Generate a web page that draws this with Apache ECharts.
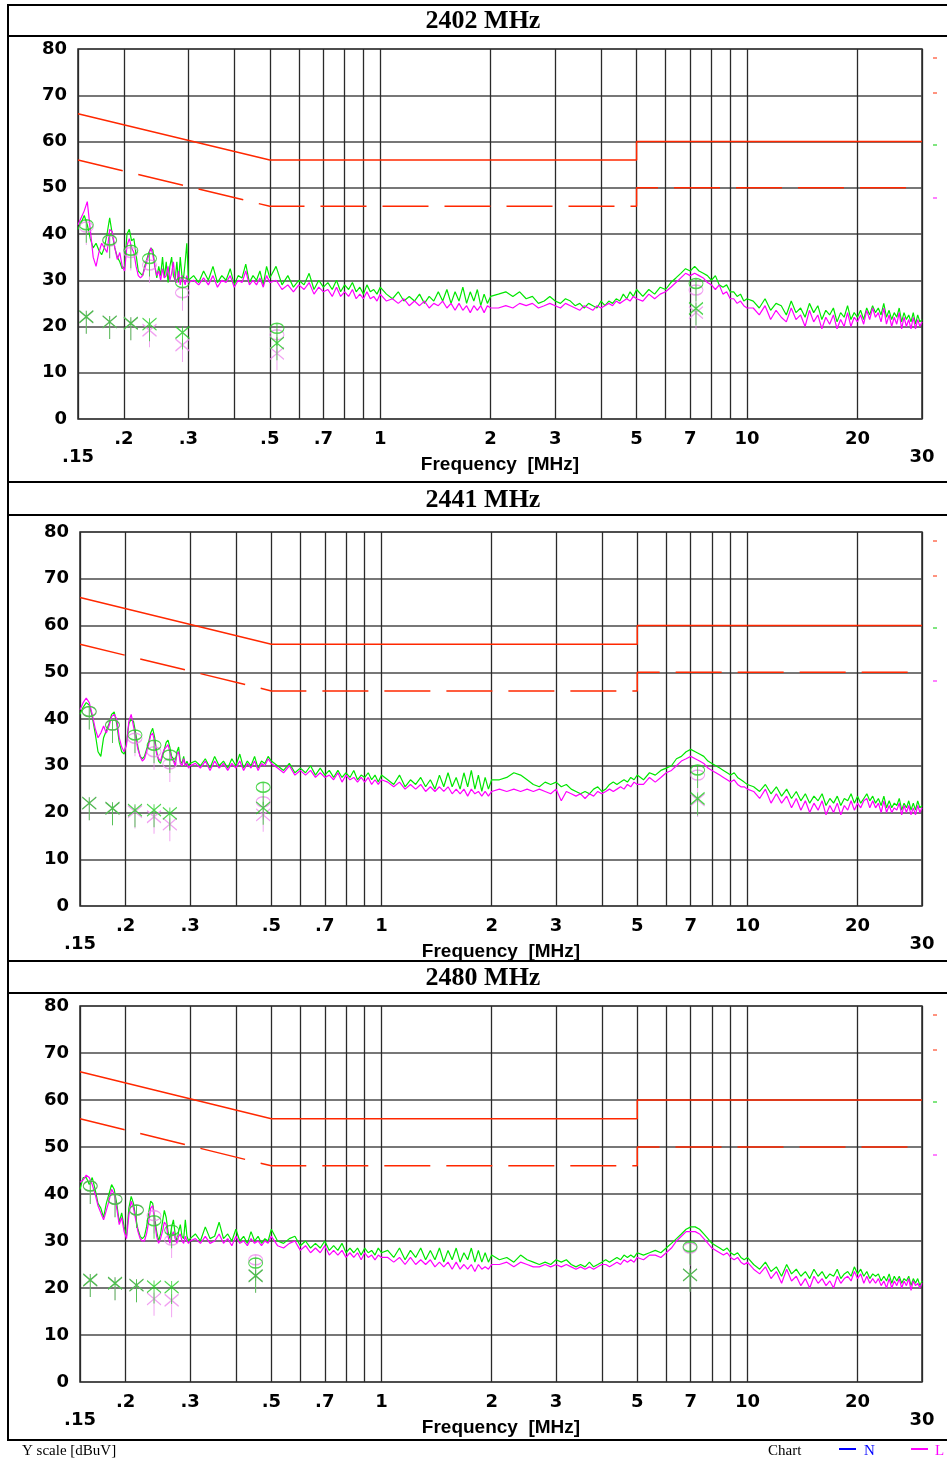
<!DOCTYPE html>
<html>
<head>
<meta charset="utf-8">
<title>Conducted emission 2402 / 2441 / 2480 MHz</title>
<script src="https://cdn.jsdelivr.net/npm/echarts@6/dist/echarts.min.js"></script>
<style>
html, body { margin: 0; padding: 0; background: #fff; }
#chart { width: 947px; height: 1459px; }
</style>
</head>
<body>
<div id="chart"></div>
<script>
// frequency grid of the scans, MHz
var freq = [
  0.150,0.153,0.156,0.159,0.162,0.165,0.168,0.171,0.174,0.177,0.180,0.183,0.186,0.189,0.192,0.195,0.198,0.201,0.204,0.207,
  0.210,0.213,0.216,0.219,0.222,0.225,0.228,0.231,0.234,0.237,0.240,0.243,0.246,0.249,0.252,0.255,0.258,0.261,0.264,0.267,
  0.270,0.273,0.276,0.279,0.282,0.285,0.288,0.291,0.294,0.297,0.300,
  0.31,0.32,0.33,0.34,0.35,0.36,0.37,0.38,0.39,0.40,0.41,0.42,0.43,0.44,0.45,0.46,0.47,0.48,0.49,0.50,
  0.52,0.54,0.56,0.58,0.60,0.62,0.64,0.66,0.68,0.70,0.72,0.74,0.76,0.78,0.80,0.82,0.84,0.86,0.88,0.90,0.92,0.94,0.96,0.98,1.00,
  1.04,1.08,1.12,1.16,1.20,1.24,1.28,1.32,1.36,1.40,1.44,1.48,1.52,1.56,1.60,1.64,1.68,1.72,1.76,1.80,1.84,1.88,1.92,1.96,2.00,
  2.1,2.2,2.3,2.4,2.5,2.6,2.7,2.8,2.9,3.0,3.1,3.2,3.3,3.4,3.5,3.6,3.7,3.8,3.9,4.0,4.1,4.2,4.3,4.4,4.5,4.6,4.7,4.8,4.9,5.0,
  5.2,5.4,5.6,5.8,6.0,6.2,6.4,6.6,6.8,7.0,7.2,7.4,7.6,7.8,8.0,8.2,8.4,8.6,8.8,9.0,9.2,9.4,9.6,9.8,10.0,
  10.4,10.8,11.2,11.6,12.0,12.4,12.8,13.2,13.6,14.0,14.4,14.8,15.2,15.6,16.0,16.4,16.8,17.2,17.6,18.0,
  18.4,18.8,19.2,19.6,20.0,20.4,20.8,21.2,21.6,22.0,22.4,22.8,23.2,23.6,24.0,24.4,24.8,25.2,25.6,26.0,
  26.4,26.8,27.2,27.6,28.0,28.4,28.8,29.2,29.6,30.0
];

// 2402 MHz, N (green) and L (magenta), dBuV
var n2402 = [
  41,42.5,44,42,39,37,38,36.5,35.5,37, 40,43.5,40,37,35,34,32.5,33,40,41,
  38.5,39,35.5,32,31.5,31,33,34.5,36,37, 36.5,33,30.5,33,31,35,30.5,34,29.5,33,
  35,31,30,34,29.5,35,31,30.5,34,38, 30,
  31,29.5,32,30,33,29.5,31,30,32.5,29, 31,30.5,33.5,29.5,31,30,32,29,33,30.5,
  33,29,31,28.5,30,29,31.5,28,30,28.5, 29.5,28,30,27.5,29,28,29.5,27.5,28.5,27, 29,27.5,28,27,28.5,
  27,26,27.5,25.5,26.5,25.5,27,25,26.5,25.5, 27.5,25.5,28,25,27.5,25.5,28.5,25,27.5,25.5, 28,24.5,27,25,26.5,
  27,27.5,26.5,27.5,26,26.5,25,25.5,26.5,25.5, 25,26,25.5,24.5,25,24,25,24.5,24,25.5, 24.5,25.5,25,26,25.5,27,26,27.5,26.5,28,
  26.5,28,27,28.5,28,29.5,30.5,31.5,32.5,32, 33,32,31.5,31,30,31,29,28.5,29,27.5, 27.5,26.5,27,25.5,26,
  25.5,24,26,23.5,25,24.5,22.5,25.5,23,24, 22,25,23,24.5,21.5,23.5,22.5,24,21,23,
  22,24.5,21.5,23,22,23.5,21.5,24,22.5,24.5, 23,24,22.5,25,22,23.5,21.5,23,22,24,
  21,23,21.5,22.5,21,23,20.5,22.5,21,21.5
];
var l2402 = [
  42,43.5,45,47,41,35,33,36,38,37, 36,41,40.5,37,34.5,36,33,32,37.5,39,
  37,36,33,31,30.5,31,32.5,34,35.5,37, 35.5,33,31,32,30,32.5,30.5,31,33,30,
  31.5,34,30,29.5,32,29,31,30,29,31, 29.5,
  30,29,30.5,29,31,28.5,30,29.5,31,28.5, 30,29.5,32,29,30,29,30.5,28.5,31,29.5,
  30,28,29,27.5,29,28,29.5,27,28.5,27.5, 28,26.5,28.5,26.5,27.5,26.5,28,26,27,26, 27.5,26,26.5,25.5,27,
  25.5,26,25,26,24.5,25.5,24.5,25.5,24,25, 24.5,25.5,24,25,23.5,25,23.5,24.5,23,24.5, 23.5,24.5,23,24.5,24,
  24,24.5,24,25,24.5,25,24,24.5,25,24.5, 24,25,24.5,24,23.5,24.5,24,23.5,24.5,24, 24.5,25,24.5,25.5,25,25.5,26,25.5,26.5,26,
  25.5,27,26,27,27.5,28.5,29.5,30.5,31.5,31, 31.5,31,30.5,29.5,29,28,29,27,27.5,26, 26,25,25.5,24.5,24,
  24,22.5,24.5,21.5,23.5,22,21,24,21.5,22.5, 20,23.5,21,22.5,19.5,22,20.5,22.5,19.5,21.5,
  20,23,20,22,21,22.5,20.5,23.5,21.5,24, 22,23,21,24,20.5,22.5,20,22,20.5,23,
  19.5,22,20,21.5,19.5,22,19.5,21.5,20,21
];

// 2441 MHz
var n2441 = [
  41,42.5,43.5,43,40.5,37,33,32,36,37.5, 39,41,41.5,39,35,33,32.5,35,39,40,
  39.5,37,34,32,31.5,32,33.5,35,37,38, 36,33,31,30.5,32,33.5,35,35.5,34,32,
  31.5,30.5,33,34,31,30.5,32,30,31,30, 30.5,
  31,30,31.5,29.5,32,30,31,29.5,31.5,30, 32.5,29.5,31,30,32,29.5,31,30.5,32,31,
  30,29,30.5,28.5,29.5,28.5,30,28,29.5,28, 29,27.5,29,27.5,28.5,27.5,29,27,28,27.5, 28.5,27,28,26.5,28,
  27,26,28,25.5,27,26,27.5,25.5,27,25, 28,25.5,28.5,25.5,27.5,25,28.5,25.5,29,25, 28,24.5,27.5,25,27,
  27,27.5,28.5,28,27,26,25.5,26.5,26,26.5, 25.5,26,25,24.5,24,24.5,24,25,25.5,24.5, 25,26,26.5,26,26.5,27,26.5,27.5,27,28,
  27,28.5,28,29,29.5,30,31.5,32,33,33.5, 33,32.5,32,31,30.5,30,29.5,29,28.5,28, 28.5,27.5,27,26.5,26,
  25.5,24.5,26,24,25.5,23.5,25,23,24.5,22.5, 24,22,23.5,22.5,24,21.5,23,22,23.5,21.5,
  23,22.5,24,22,23.5,22,23,24,22.5,23.5, 22,23,21.5,23.5,21,22.5,21,22,21.5,23,
  20.5,22,21,22.5,20.5,22,20.5,22.5,21,21.5
];
var l2441 = [
  42,43.5,44.5,43.5,41,38,36,37,38.5,37, 38.5,40.5,41,40,36,34,33,34.5,39.5,41,
  38.5,36,33.5,32,31,31.5,33,34.5,36.5,37, 35,32.5,31.5,31,32.5,33.5,34,34.5,33,31.5,
  31,30,32.5,33,30.5,30,31.5,30,30.5,29.5, 30,
  30.5,29.5,31,29,31,29.5,30.5,29,30.5,29.5, 31,29,30.5,29.5,31,29,30.5,30,31.5,30.5,
  29.5,28.5,30,28,29,28,29,27.5,28.5,27.5, 28,27,28.5,26.5,28,27,27.5,26.5,27.5,26.5, 27.5,26,27,26,27,
  26.5,25.5,26.5,25,26,25,26,24.5,25.5,24.5, 25.5,24.5,25.5,24,25,24,25,23.5,25,24, 24.5,23.5,24.5,23.5,24.5,
  25,24.5,25,24.5,25,24.5,25,24.5,24,25, 22.5,24.5,24,23.5,24,23,24,23.5,24.5,24, 24.5,25,24.5,25,25.5,25,26,25.5,26.5,26,
  26,27.5,26.5,27.5,28.5,29,30,31,31.5,32, 31.5,31,30.5,29.5,29,28.5,28,27.5,27,26.5, 27,26,25.5,25.5,25,
  24.5,23,25,22,24,22,23.5,21,23,20.5, 22.5,20,22,20.5,22.5,19.5,21.5,20,22,19.5,
  21.5,20.5,22.5,20.5,22,21,22.5,23,21,22.5, 21,22,20,22.5,20,21.5,20,21,20.5,22,
  19.5,21.5,20,21.5,19.5,21,19.5,21.5,20,21
];

// 2480 MHz
var n2480 = [
  41,43.5,43.5,42,43.5,41,38,37,35,38, 40,42,41,38,34,36,33,31,37,39.5,
  38,35,32.5,31,30.5,31,33,36,38.5,38, 35,32,30,31.5,34,36.5,35,32,30.5,33,
  34.5,31.5,30,32,33.5,31,30.5,34.5,31,30, 30.5,
  31.5,30,33,30.5,31,34,30.5,31.5,30,32.5, 30,31,29.5,32,30,31,29.5,30.5,30,32.5,
  30,29.5,30.5,31,29,30,28.5,29.5,28.5,30, 28,29,28,29.5,27.5,28.5,27.5,28.5,27,28.5, 27.5,28,27,28.5,27.5,
  28,26.5,28.5,26,28,26.5,28.5,26,28,26, 28.5,25.5,28,26,28.5,25.5,27.5,26,28.5,25.5, 28,25.5,27.5,25.5,27,
  26,26.5,25.5,27,26,25.5,25,25.5,25,26, 25.5,26,25,24.5,25,24.5,25.5,24.5,25,25.5, 26,25.5,26,26.5,26,27,26.5,27,26.5,27.5,
  27,27.5,28,27.5,28.5,29.5,30.5,31.5,32.5,33, 33,32.5,31.5,30.5,29.5,29,28.5,28,28.5,27.5, 27,27.5,26.5,26,26.5,
  25,24,25.5,23.5,24.5,22.5,25,23,24,22.5, 23.5,22,24,22.5,23.5,22,23,22.5,24,22,
  23,23.5,22.5,24.5,23,24,22.5,23.5,22,23, 22.5,23,21.5,22.5,21.5,23,21,22.5,21.5,22.5,
  21,22,21.5,22.5,20.5,22,21,22,20.5,21.5
];
var l2480 = [
  42.5,43,44,43.5,42,40,37.5,36,34.5,36.5, 38.5,41,40,37,33.5,35,32,30.5,35.5,38.5,
  37,34.5,32,30.5,30,30,31.5,34,37,37.5, 34,31,29.5,30.5,32,34,33.5,31,29.5,31,
  32,30.5,29.5,31,31.5,30,29.5,31,30,29.5, 30,
  30.5,29.5,31,29.5,30,31.5,29.5,30.5,29,31, 29.5,30,29,30.5,29.5,30,29,30,29.5,31,
  29,28.5,29.5,30,28,29,27.5,28.5,27.5,29, 27,28,27,28,26.5,27.5,26.5,27.5,26,27.5, 26.5,27,26,27,26.5,
  26.5,25.5,26.5,25,26.5,25,26,25,26,24.5, 25.5,24.5,25.5,24,25.5,24,25,24,25,23.5, 25,24,24.5,24,25,
  25,25.5,24.5,25.5,25,24.5,24.5,25,24.5,25, 24.5,25,24.5,24,24.5,24,24.5,24,24.5,25, 25,24.5,25,25.5,25,26,25.5,26,25.5,26.5,
  26,27,27,26.5,27.5,28.5,30,31,32,32, 32,31.5,30.5,29.5,28.5,28,27.5,27,27.5,26.5, 26,26.5,25.5,25,25.5,
  24,23,24.5,22,23.5,21,24,21.5,22.5,20.5, 22,20,22.5,21,22,20.5,21.5,20,22.5,21,
  22,22.5,21.5,23.5,22,23,21,22.5,21,22, 21,22,20.5,21.5,20,22,20,21.5,20.5,22,
  20,21.5,20.5,22,19.5,21.5,20.5,21,20,21
];

// final measurements: quasi-peak (circle) and average (cross)
var mF2402 = [0.158, 0.183, 0.209, 0.235, 0.289, 0.523, 7.26];
var qpN2402 = [42, 38.7, 36.5, 34.7, 29.5, 19.6, 29.3];
var qpL2402 = [41.5, 38.5, 36, 33.3, 27.3, 18.2, 27.9];
var avN2402 = [22.1, 21, 20.7, 20.5, 18.7, 16.4, 23.9];
var avL2402 = [22.1, 21, 20.7, 19.2, 16, 14.2, 23];

var mF2441 = [0.159, 0.184, 0.212, 0.239, 0.264, 0.475, 7.31];
var qpN2441 = [41.6, 38.7, 36.6, 34.4, 32.3, 25.4, 29.1];
var qpL2441 = [41.6, 38.7, 35.9, 33, 30.4, 22.3, 28];
var avN2441 = [22, 20.9, 20.5, 20.5, 19.8, 21, 23];
var avL2441 = [22, 20.9, 20.2, 19.1, 17.5, 19.5, 22.7];

var mF2480 = [0.16, 0.187, 0.214, 0.239, 0.267, 0.453, 6.97];
var qpN2480 = [41.7, 38.9, 36.6, 34.3, 32.3, 25.3, 28.8];
var qpL2480 = [41.7, 38.9, 36.6, 35.4, 30.2, 26, 28.5];
var avN2480 = [21.7, 21, 20.6, 20.3, 20.2, 22.6, 22.8];
var avL2480 = [21.7, 21, 20.6, 17.7, 17.4, 22.6, 22.8];

// limit lines (QP solid, AV dashed)
var limF = [0.15, 0.5, 5, 5, 10, 20, 30];
var qpLim = [66, 56, 56, 60, 60, 60, 60];
var avLim = [56, 46, 46, 50, 50, 50, 50];

// vertical grid lines and their tick labels
var gridFreq = [0.15, 0.2, 0.3, 0.4, 0.5, 0.6, 0.7, 0.8, 0.9, 1, 2, 3, 4, 5, 6, 7, 8, 9, 10, 20, 30];
var gridLabel = ['.15', '.2', '.3', '', '.5', '', '.7', '', '', '1', '2', '3', '', '5', '', '7', '', '', '10', '20', '30'];

var green = '#00e600', pink = '#ff00ff', red = '#ff2800';
var mkGreen = '#22cc22', mkPink = '#ee88ee';

var qpSymbol = 'path://M0,5 A7,5 0 1,1 14,5 A7,5 0 1,1 0,5 M7,0 L7,23';
var avSymbol = 'path://M0,0 L14,12 M14,0 L0,12 M7,0 L7,23';

var panels = [
  { title: '2402 MHz', ty: 21, grid: { left: 78, top: 49, width: 844, height: 370 },
    n: n2402, l: l2402, mf: mF2402, qpN: qpN2402, qpL: qpL2402, avN: avN2402, avL: avL2402 },
  { title: '2441 MHz', ty: 500, grid: { left: 80, top: 532, width: 842, height: 374 },
    n: n2441, l: l2441, mf: mF2441, qpN: qpN2441, qpL: qpL2441, avN: avN2441, avL: avL2441 },
  { title: '2480 MHz', ty: 978, grid: { left: 80, top: 1006, width: 842, height: 376 },
    n: n2480, l: l2480, mf: mF2480, qpN: qpN2480, qpL: qpL2480, avN: avN2480, avL: avL2480 }
];

function pairs(xs, ys) {
  return xs.map(function(x, k) { return [x, ys[k]]; });
}

var tickFont = { color: '#000', fontFamily: 'DejaVu Sans', fontWeight: 'bold', fontSize: 18 };

function gridMarks() {
  return {
    silent: true, symbol: 'none', animation: false,
    lineStyle: { color: '#2a2a2a', width: 1.3, type: 'solid' },
    data: gridFreq.map(function(f, k) {
      var edge = (k === 0 || k === gridFreq.length - 1);
      return {
        xAxis: f,
        label: Object.assign({
          show: gridLabel[k] !== '', formatter: gridLabel[k],
          position: 'start', distance: edge ? 29 : 11
        }, tickFont)
      };
    })
  };
}

// data layers sit on their own canvas layer above the grid
function limit(i, ys, dashed) {
  return {
    type: 'line', xAxisIndex: i, yAxisIndex: i, zlevel: 1, z: 3, silent: true, symbol: 'none',
    clip: false, data: pairs(limF, ys),
    lineStyle: { color: red, width: 1.5, type: dashed ? [46, 16] : 'solid' }
  };
}

function marker(i, xs, ys, symbol, offset, color) {
  return {
    type: 'scatter', xAxisIndex: i, yAxisIndex: i, zlevel: 1, z: 6, silent: true,
    data: pairs(xs, ys), symbol: symbol, symbolSize: [14, 23], symbolOffset: [0, offset],
    itemStyle: { color: 'rgba(0,0,0,0)', borderColor: color, borderWidth: 1.2 }
  };
}

var series = [];
var graphics = [];
panels.forEach(function(p, i) {
  // holder for the vertical grid lines
  series.push({
    type: 'line', xAxisIndex: i, yAxisIndex: i, z: 1, silent: true, symbol: 'none',
    data: [], markLine: gridMarks()
  });
  series.push(limit(i, qpLim, false));
  series.push(limit(i, avLim, true));
  series.push({
    type: 'line', xAxisIndex: i, yAxisIndex: i, zlevel: 1, z: 4, silent: true, symbol: 'none',
    data: pairs(freq, p.n), lineStyle: { color: green, width: 1.2 }
  });
  series.push({
    type: 'line', xAxisIndex: i, yAxisIndex: i, zlevel: 1, z: 5, silent: true, symbol: 'none',
    data: pairs(freq, p.l), lineStyle: { color: pink, width: 1.2 }
  });
  series.push(marker(i, p.mf, p.qpL, qpSymbol, 6.5, mkPink));
  series.push(marker(i, p.mf, p.qpN, qpSymbol, 6.5, mkGreen));
  series.push(marker(i, p.mf, p.avL, avSymbol, 5.5, mkPink));
  series.push(marker(i, p.mf, p.avN, avSymbol, 5.5, mkGreen));

  // panel title
  graphics.push({
    type: 'text', x: 483, y: p.ty, z: 10,
    style: { text: p.title, fill: '#000', font: 'bold 26px "Liberation Serif"', align: 'center', verticalAlign: 'middle' }
  });
  // small legend dashes right of the plot
  var t = p.grid.top;
  [[9, red], [44, red], [96, '#00cc00'], [149, pink]].forEach(function(d) {
    graphics.push({ type: 'line', shape: { x1: 933, y1: t + d[0], x2: 937, y2: t + d[0] }, style: { stroke: d[1], lineWidth: 1 } });
  });
});

// frame lines
[5, 36, 482, 515, 961, 993, 1440].forEach(function(y) {
  graphics.push({ type: 'line', shape: { x1: 7, y1: y, x2: 947, y2: y }, style: { stroke: '#000', lineWidth: 2 } });
});
graphics.push({ type: 'line', shape: { x1: 8, y1: 4, x2: 8, y2: 1441 }, style: { stroke: '#000', lineWidth: 2 } });

// footer
graphics.push({ type: 'text', x: 22, y: 1451, style: { text: 'Y scale [dBuV]', fill: '#000', font: '15px "Liberation Serif"', verticalAlign: 'middle' } });
graphics.push({ type: 'text', x: 768, y: 1451, style: { text: 'Chart', fill: '#000', font: '15px "Liberation Serif"', verticalAlign: 'middle' } });
graphics.push({ type: 'line', shape: { x1: 839, y1: 1449, x2: 856, y2: 1449 }, style: { stroke: '#0000ff', lineWidth: 2 } });
graphics.push({ type: 'text', x: 864, y: 1451, style: { text: 'N', fill: '#0000ff', font: '15px "Liberation Serif"', verticalAlign: 'middle' } });
graphics.push({ type: 'line', shape: { x1: 911, y1: 1449, x2: 928, y2: 1449 }, style: { stroke: pink, lineWidth: 2 } });
graphics.push({ type: 'text', x: 935, y: 1451, style: { text: 'L', fill: pink, font: '15px "Liberation Serif"', verticalAlign: 'middle' } });

var chart = echarts.init(document.getElementById('chart'));
chart.setOption({
  animation: false,
  backgroundColor: '#fff',
  grid: panels.map(function(p) {
    return Object.assign({ show: true, borderColor: '#2a2a2a', borderWidth: 1.5, backgroundColor: 'transparent' }, p.grid);
  }),
  xAxis: panels.map(function(p, i) {
    return {
      type: 'log', logBase: 10, min: 0.15, max: 30, gridIndex: i,
      axisLine: { show: false }, axisTick: { show: false }, axisLabel: { show: false }, splitLine: { show: false },
      name: 'Frequency  [MHz]', nameLocation: 'middle', nameGap: 36,
      nameTextStyle: { color: '#000', fontFamily: 'Liberation Sans', fontWeight: 'bold', fontSize: 19 }
    };
  }),
  yAxis: panels.map(function(p, i) {
    return {
      type: 'value', min: 0, max: 80, interval: 10, gridIndex: i,
      axisLine: { show: false }, axisTick: { show: false },
      axisLabel: Object.assign({ margin: 11 }, tickFont),
      splitLine: { show: true, lineStyle: { color: '#4a4a4a', width: 1.5 } }
    };
  }),
  series: series,
  graphic: graphics
});
</script>
</body>
</html>
